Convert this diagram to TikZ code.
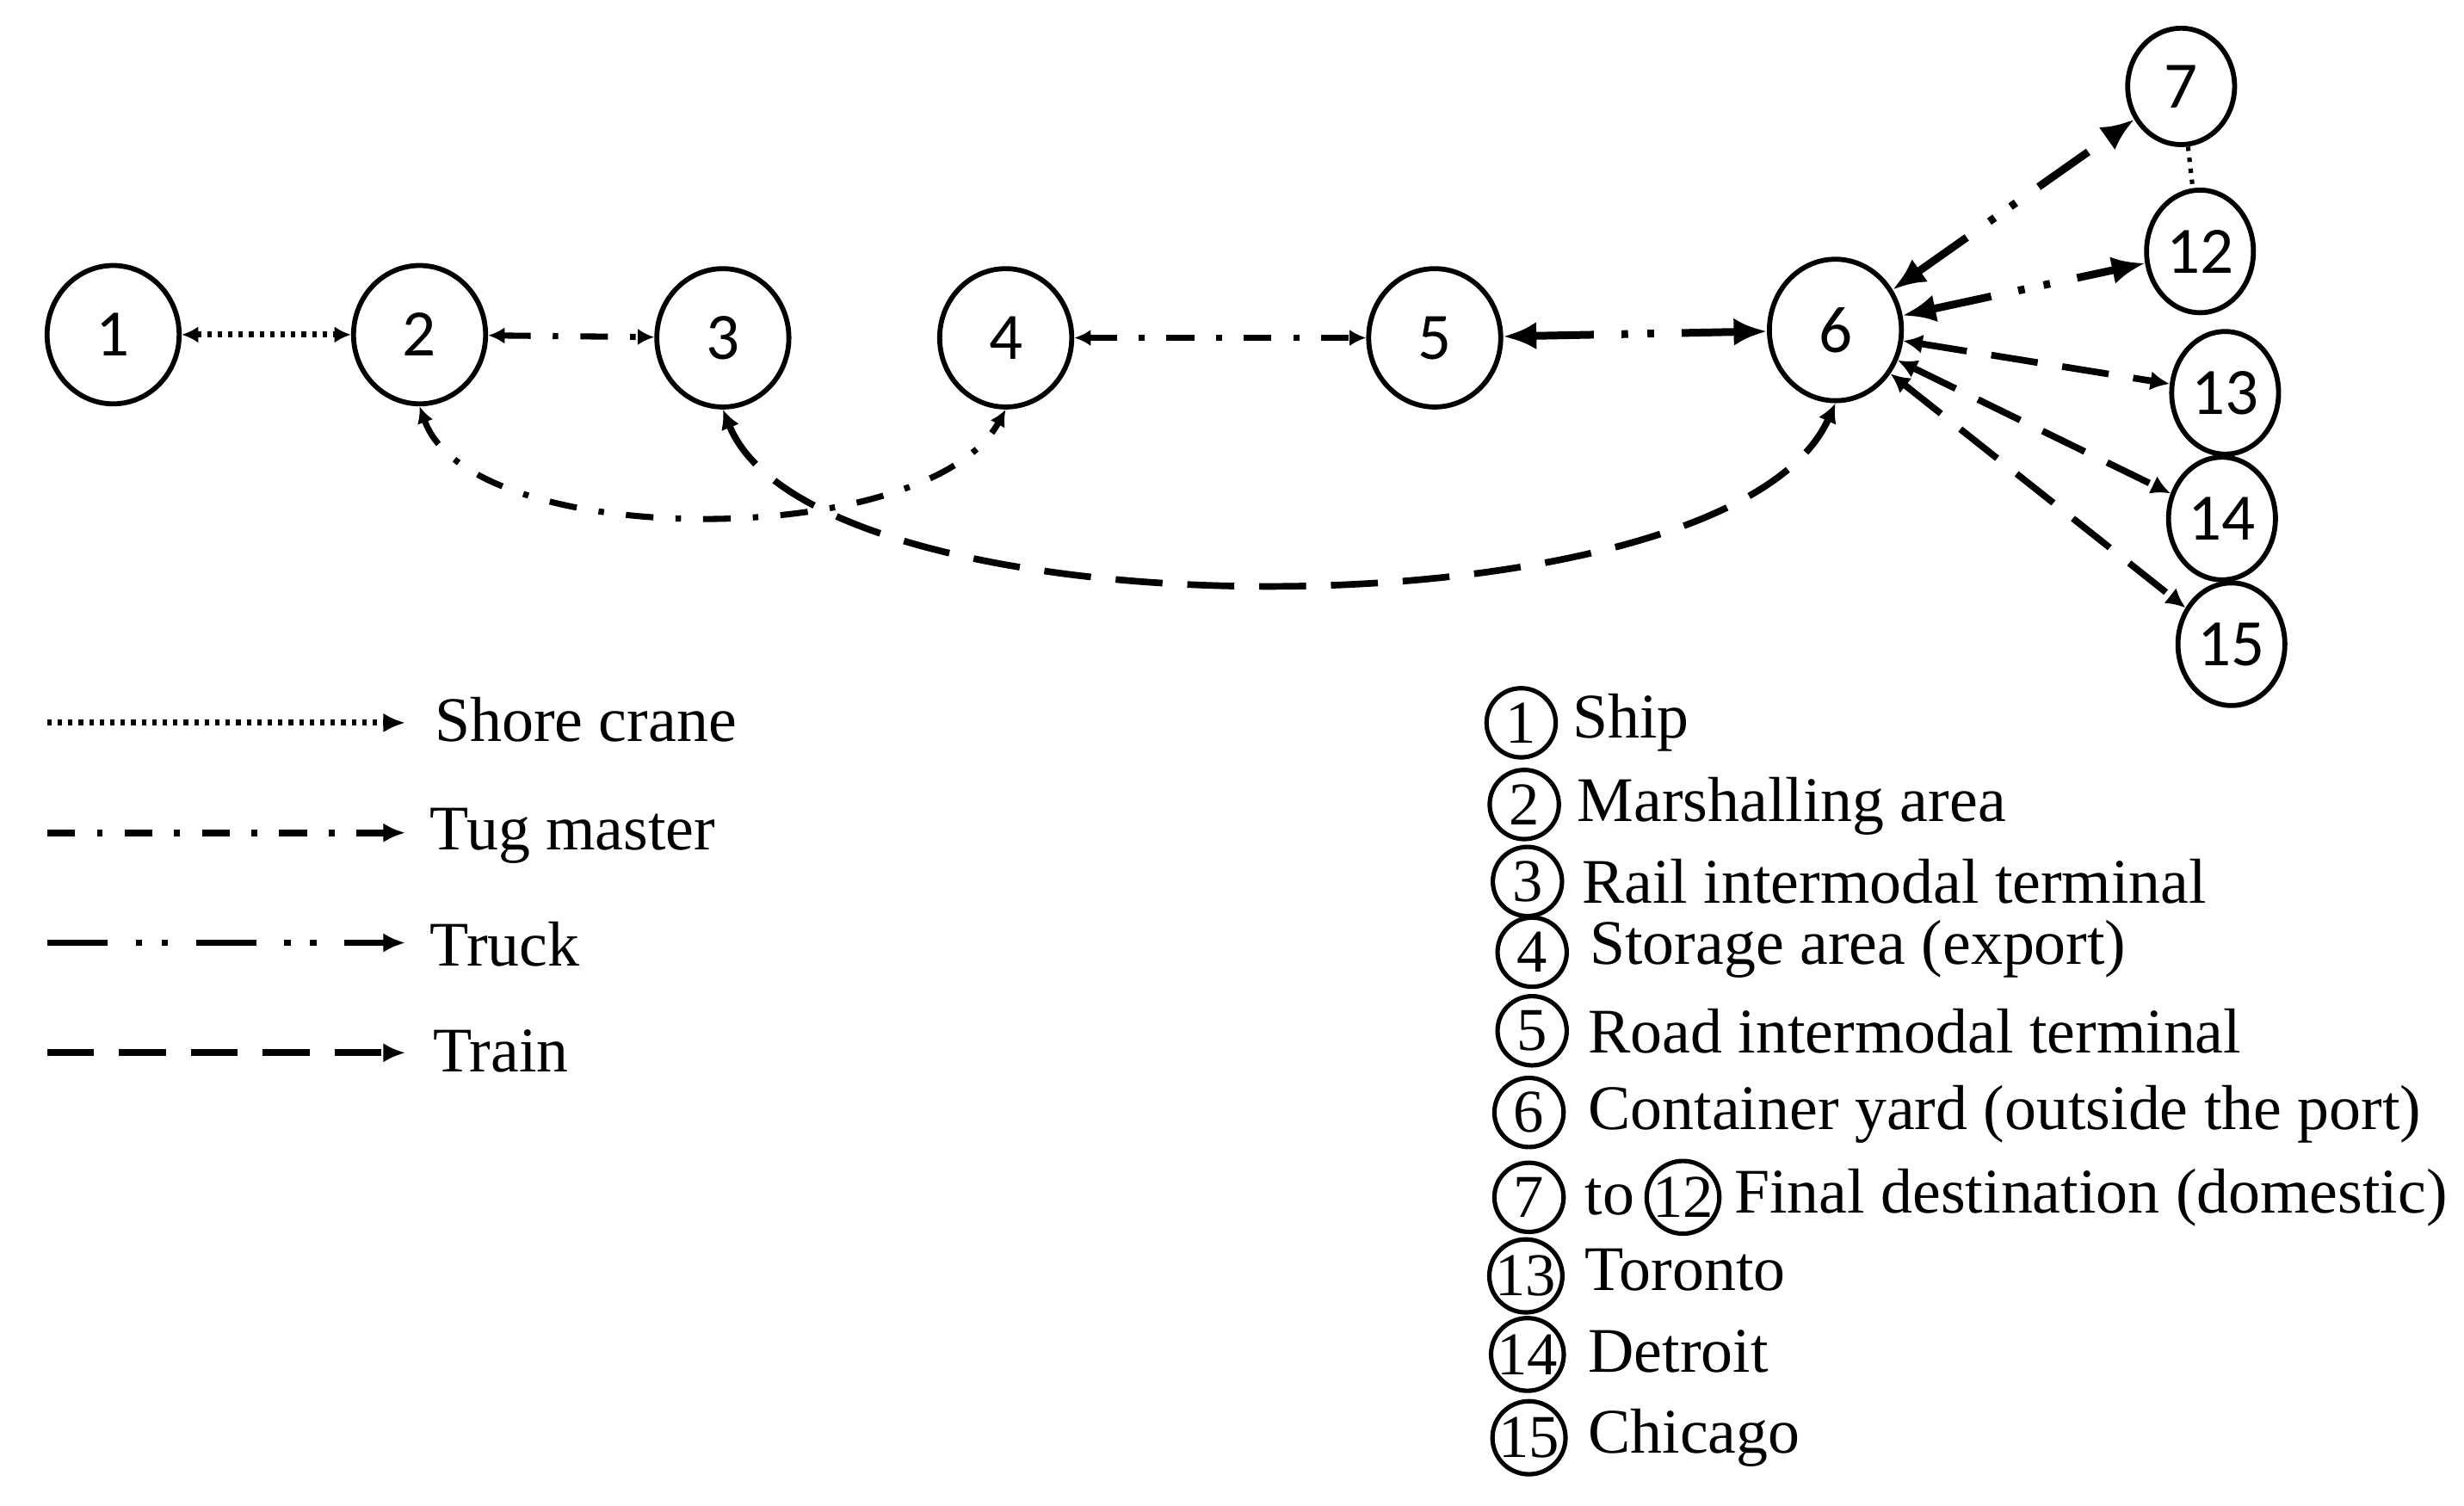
\documentclass[tikz,border=0pt]{standalone}
\usepackage{fontspec}
\setmainfont{Liberation Serif}
\newfontfamily\digitfont{Carlito}
\usetikzlibrary{shapes.geometric,arrows.meta}
\begin{document}
\begin{tikzpicture}[x=0.01cm,y=-0.01cm,
  big/.style={ellipse,draw,line width=0.9pt,minimum width=0.84cm,minimum height=0.88cm,inner sep=0pt,font=\digitfont\fontsize{12}{12}\selectfont},
  sml/.style={ellipse,draw,line width=0.9pt,minimum width=0.68cm,minimum height=0.78cm,inner sep=0pt,font=\digitfont\fontsize{12}{12}\selectfont},
  leg/.style={circle,draw,line width=0.8pt,minimum size=0.44cm,inner sep=0pt,font=\fontsize{11}{11}\selectfont},
  ltxt/.style={anchor=west,font=\fontsize{11.5}{12}\selectfont,inner sep=0pt},
  crane/.style={line width=1.1pt,dash pattern=on 0.8pt off 1.1pt,{Latex[length=3pt,width=3pt]}-{Latex[length=3pt,width=3pt]}},
  tug/.style={line width=1.1pt,dash pattern=on 5pt off 4pt on 1pt off 4pt,{Latex[length=3pt,width=3pt]}-{Latex[length=3pt,width=3pt]}},
  truck/.style={line width=1.4pt,dash pattern=on 11pt off 5pt on 1.2pt off 3.5pt on 1.2pt off 5pt,{Latex[length=6pt,width=5pt]}-{Latex[length=6pt,width=5pt]}},
  train/.style={line width=1.2pt,dash pattern=on 8.5pt off 4.5pt,{Latex[length=3.5pt,width=3.5pt]}-{Latex[length=3.5pt,width=3.5pt]}},
  legcrane/.style={line width=1.1pt,dash pattern=on 0.8pt off 1.1pt,-{Latex[length=4pt,width=3.5pt]}},
  legtug/.style={line width=1.2pt,dash pattern=on 5pt off 4pt on 1pt off 4pt,-{Latex[length=4pt,width=3.5pt]}},
  legtruck/.style={line width=1.2pt,dash pattern=on 11pt off 5pt on 1.2pt off 3.5pt on 1.2pt off 5pt,-{Latex[length=4pt,width=3.5pt]}},
  legtrain/.style={line width=1.2pt,dash pattern=on 8.5pt off 4.5pt,-{Latex[length=4pt,width=3.5pt]}}]
\useasboundingbox (0,0) rectangle (1568,958);
\node[big] (n1) at (72,213) {1};
\node[big] (n2) at (267,213) {2};
\node[big] (n3) at (460,215) {3};
\node[big] (n4) at (640,215) {4};
\node[big] (n5) at (913,215) {5};
\node[big,minimum height=0.9cm] (n6) at (1168,210) {6};
\node[sml,minimum height=0.74cm] (n7) at (1388,55) {7};
\node[sml] (n12) at (1400,160) {12};
\node[sml] (n13) at (1416,250) {13};
\node[sml] (n14) at (1414,330) {14};
\node[sml] (n15) at (1420,410) {15};

\draw[crane] (n1) -- (n2);
\draw[tug] (n2) -- (n3);
\draw[tug] (n4) -- (n5);
\draw[truck] (n5) -- (n6);
\draw[truck] (n6) -- (n7);
\draw[truck] (n6) -- (n12);
\draw[train] (n6) -- (n13);
\draw[train] (n6) -- (n14);
\draw[train] (n6) -- (n15);
\draw[line width=0.8pt,dash pattern=on 0.8pt off 1.2pt] (n7) -- (n12);
\draw[tug] (n2.south) .. controls (300,351) and (590,351) .. (n4.south);
\draw[train] (n3.south) .. controls (520,408) and (1100,408) .. (n6.south);

% legend left
\coordinate (a1) at (30,460); \coordinate (b1) at (258,460);
\coordinate (a2) at (30,530); \coordinate (b2) at (258,530);
\coordinate (a3) at (30,600); \coordinate (b3) at (258,600);
\coordinate (a4) at (30,670); \coordinate (b4) at (258,670);
\draw[legcrane] (a1) -- (b1);
\draw[legtug] (a2) -- (b2);
\draw[legtruck] (a3) -- (b3);
\draw[legtrain] (a4) -- (b4);
\node[ltxt] (t1) at (276,458) {Shore crane};
\node[ltxt] (t2) at (273,532) {Tug master};
\node[ltxt] (t3) at (273,601) {Truck};
\node[ltxt] (t4) at (275,669) {Train};

% legend right
\node[leg] (l1) at (968,460) {1}; \node[ltxt] at (1000,460) {Ship};
\node[leg] (l2) at (970,512) {2}; \node[ltxt] at (1003,513) {Marshalling area};
\node[leg] (l3) at (972,561) {3}; \node[ltxt] at (1006,561) {Rail intermodal terminal};
\node[leg] (l4) at (975,606) {4}; \node[ltxt] at (1011,604) {Storage area (export)};
\node[leg] (l5) at (975,656) {5}; \node[ltxt] at (1010,656) {Road intermodal terminal};
\node[leg] (l6) at (973,708) {6}; \node[ltxt] at (1010,709) {Container yard (outside the port)};
\node[leg] (l7) at (973,762) {7}; \node[ltxt] (to) at (1008,762) {to};
\node[leg] (l12) at (1071,762) {12}; \node[ltxt] at (1103,762) {Final destination (domestic)};
\node[leg] (l13) at (971,812) {13}; \node[ltxt] at (1008,808) {Toronto};
\node[leg] (l14) at (972,862) {14}; \node[ltxt] at (1010,860) {Detroit};
\node[leg] (l15) at (973,915) {15}; \node[ltxt] at (1010,915) {Chicago};
\end{tikzpicture}
\end{document}
